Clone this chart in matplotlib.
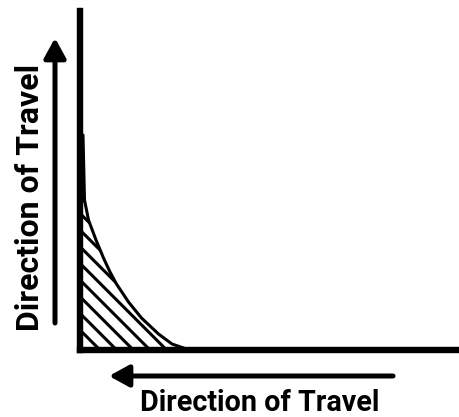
"""Sketch: direction of travel diagram with hatched corner."""

import matplotlib

matplotlib.use("Agg")
import matplotlib.pyplot as plt

# curve (x right of the vertical axis, y above the bottom axis)
curve_x = [3, 4.5, 8.5, 16, 23.5, 30, 36.5, 48.5, 61.5, 78.5, 92, 105, 120]
curve_y = [215, 150, 130, 110, 92, 78, 66, 48, 32, 16, 6, 1.5, 0]
label_text = "Direction of Travel"

plt.rcParams["hatch.linewidth"] = 2.2
plt.rcParams["hatch.color"] = "black"

W, H = 460, 417
fig = plt.figure(figsize=(W / 100, H / 100), dpi=100)
ax = fig.add_axes([80 / W, (H - 350) / H, (458 - 80) / W, (350 - 11) / H])
ax.set_xlim(0, 378)
ax.set_ylim(0, 339)
for side in ("top", "right"):
    ax.spines[side].set_visible(False)
for side in ("left", "bottom"):
    ax.spines[side].set_linewidth(4.6)
    ax.spines[side].set_color("black")
    ax.spines[side].set_capstyle("projecting")
ax.set_xticks([])
ax.set_yticks([])

ax.fill_between(curve_x, curve_y, 0, facecolor="none", edgecolor="black",
                hatch="\\\\", linewidth=0)
ax.plot(curve_x, curve_y, color="black", linewidth=2.2, solid_capstyle="round")

# arrows in figure pixels
arrow = dict(arrowstyle="-|>,head_length=0.6,head_width=0.33", color="black",
             lw=3.6, shrinkA=0, shrinkB=0, mutation_scale=20)
fig.add_artist(plt.Annotation("", xy=(55, H - 38), xytext=(55, H - 323),
                              xycoords="figure pixels", textcoords="figure pixels",
                              arrowprops=arrow))
fig.add_artist(plt.Annotation("", xy=(109, H - 376), xytext=(393, H - 376),
                              xycoords="figure pixels", textcoords="figure pixels",
                              arrowprops=arrow))

font = dict(family="Roboto", weight="bold", color="black")
bottom_label = fig.text(260 / W, (H - 411) / H, label_text, ha="center",
                        va="baseline", fontsize=17, **font)
left_label = fig.text(15 / W, (H - 197) / H, label_text, ha="left", va="center",
                      rotation=90, fontsize=19, **font)

# scale the labels to the lengths seen in the picture
renderer = fig.canvas.get_renderer()
for label, length, along in ((bottom_label, 240, "width"), (left_label, 267, "height")):
    box = label.get_window_extent(renderer)
    label.set_fontsize(label.get_fontsize() * length / getattr(box, along))

fig.savefig("out.png", dpi=100)
